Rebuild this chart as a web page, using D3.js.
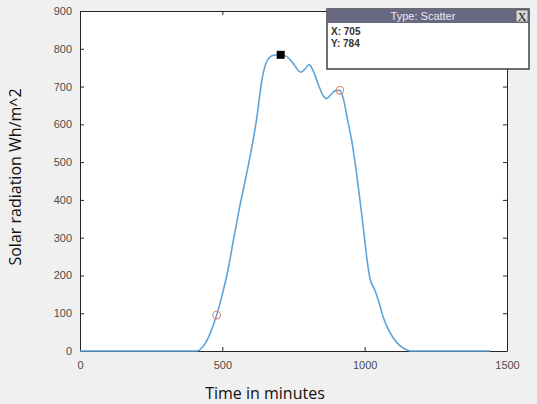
<!DOCTYPE html>
<html>
<head>
<meta charset="utf-8">
<script src="https://cdn.jsdelivr.net/npm/d3@7"></script>
<style>
  body { margin: 0; background: #f0f0f0; }
  svg { display: block; }
</style>
</head>
<body>
<svg id="svg" width="537" height="404"></svg>
<script>
// minutes of the day and solar radiation
const minutes = [0, 410, 420, 440, 460, 480, 500, 520, 540, 560, 580, 600, 620, 640, 660, 680, 705,
  725, 750, 775, 790, 805, 820, 840, 855, 866, 880, 900, 913, 925, 940, 955, 970, 985, 1000,
  1010, 1020, 1035, 1050, 1065, 1080, 1100, 1120, 1140, 1160, 1440];
const radiation = [0, 0, 3, 20, 52, 95, 150, 215, 298, 378, 450, 525, 612, 722, 772, 783, 784,
  780, 760, 738, 746, 758, 740, 700, 675, 668, 678, 690, 690, 668, 612, 555, 478, 390, 295,
  232, 188, 163, 130, 90, 62, 35, 17, 6, 0, 0];

// circled samples and the selected data tip
const circledX = [480, 913];
const circledY = [95, 690];
const tipPoint = [705, 784];

const xTicks = [0, 500, 1000, 1500];
const yTicks = [0, 100, 200, 300, 400, 500, 600, 700, 800, 900];

const xLabel = "Time in minutes";
const yLabel = "Solar radiation Wh/m^2";
const tipTitle = "Type: Scatter";

let svg = d3.select("#svg");
const width = 537, height = 404;
const margin = { top: 11, right: 30, bottom: 53, left: 80 };
let chartWidth = width - margin.left - margin.right;
let chartHeight = height - margin.top - margin.bottom;

let chart = svg.append("g")
    .attr("transform", "translate(" + margin.left + "," + margin.top + ")");

let xScale = d3.scaleLinear().domain([0, 1500]).range([0, chartWidth]);
let yScale = d3.scaleLinear().domain([0, 900]).range([chartHeight, 0]);

// white plot area
chart.append("rect")
    .attr("width", chartWidth)
    .attr("height", chartHeight)
    .attr("fill", "#fff");

const tickFont = "Liberation Sans, Arial, sans-serif";
const plain = d3.format("d");

// axes with inward ticks, box on
function styleAxis(g) {
    g.select(".domain").attr("stroke", "#262626");
    g.selectAll(".tick line").attr("stroke", "#262626");
    g.selectAll("text").attr("fill", "#4d4d4d").style("font-family", tickFont).style("font-size", "11px");
}

chart.append("g")
    .attr("transform", "translate(0," + chartHeight + ")")
    .call(d3.axisBottom(xScale).tickValues(xTicks).tickFormat(plain).tickSize(-4).tickSizeOuter(0).tickPadding(10))
    .call(styleAxis);

chart.append("g")
    .call(d3.axisTop(xScale).tickValues(xTicks).tickSize(-4).tickSizeOuter(0).tickFormat(""))
    .call(styleAxis);

chart.append("g")
    .call(d3.axisLeft(yScale).tickValues(yTicks).tickFormat(plain).tickSize(-4).tickSizeOuter(0).tickPadding(8))
    .call(styleAxis);

chart.append("g")
    .attr("transform", "translate(" + chartWidth + ",0)")
    .call(d3.axisRight(yScale).tickValues(yTicks).tickSize(-4).tickSizeOuter(0).tickFormat(""))
    .call(styleAxis);

// radiation line
let line = d3.line()
    .x((d, i) => xScale(minutes[i]))
    .y(d => yScale(d))
    .curve(d3.curveMonotoneX);

chart.append("path")
    .datum(radiation)
    .attr("fill", "none")
    .attr("stroke", "#5fa4d8")
    .attr("stroke-width", 1.6)
    .attr("d", line);

// circled samples
chart.selectAll(".circ")
    .data(circledX)
    .enter().append("circle")
    .attr("class", "circ")
    .attr("cx", d => xScale(d))
    .attr("cy", (d, i) => yScale(circledY[i]))
    .attr("r", 3.8)
    .attr("fill", "none")
    .attr("stroke", "#e0876a")
    .attr("stroke-width", 1.1);

// selected point
chart.append("rect")
    .attr("x", xScale(tipPoint[0]) - 4)
    .attr("y", yScale(tipPoint[1]) - 4)
    .attr("width", 8)
    .attr("height", 8)
    .attr("fill", "#000");

// data tip box
let tip = svg.append("g").attr("transform", "translate(327,9)");
tip.append("rect")
    .attr("width", 202).attr("height", 60)
    .attr("fill", "#fff").attr("stroke", "#404040").attr("stroke-width", 1.5);
tip.append("rect")
    .attr("width", 202).attr("height", 14)
    .attr("fill", "#686883");
tip.append("text")
    .attr("x", 96).attr("y", 11)
    .attr("text-anchor", "middle")
    .attr("fill", "#e8e8ee")
    .style("font-family", tickFont).style("font-size", "11px")
    .text(tipTitle);
tip.append("rect")
    .attr("x", 189).attr("y", 1).attr("width", 12).attr("height", 12)
    .attr("fill", "#d8d8d8").attr("stroke", "#555").attr("stroke-width", 0.8);
tip.append("text")
    .attr("x", 195).attr("y", 12)
    .attr("text-anchor", "middle")
    .attr("fill", "#111")
    .style("font-family", "Liberation Serif, serif").style("font-size", "12px")
    .text("X");
tip.append("text")
    .attr("x", 4).attr("y", 26)
    .attr("fill", "#333")
    .style("font-family", tickFont).style("font-size", "10px").style("font-weight", "bold")
    .text("X: " + tipPoint[0]);
tip.append("text")
    .attr("x", 4).attr("y", 38)
    .attr("fill", "#333")
    .style("font-family", tickFont).style("font-size", "10px").style("font-weight", "bold")
    .text("Y: " + tipPoint[1]);

// axis labels
svg.append("text")
    .attr("x", 265)
    .attr("y", 399)
    .attr("text-anchor", "middle")
    .attr("fill", "#111")
    .style("font-family", "Open Sans, sans-serif")
    .style("font-size", "16px")
    .text(xLabel);

svg.append("text")
    .attr("transform", "translate(21,177) rotate(-90)")
    .attr("text-anchor", "middle")
    .attr("fill", "#111")
    .style("font-family", "Open Sans, sans-serif")
    .style("font-size", "16px")
    .text(yLabel);
</script>
</body>
</html>
